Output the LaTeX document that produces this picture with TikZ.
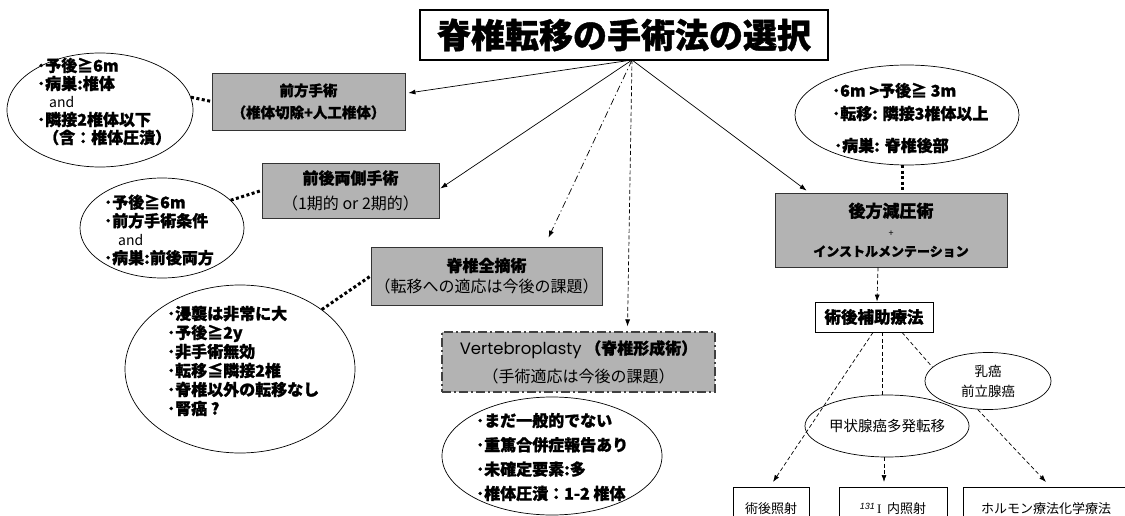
\documentclass[tikz,border=0pt]{standalone}
\usepackage{fontspec}
\setmainfont{Noto Sans CJK JP}[BoldFeatures={FakeBold=1.2}]
\newfontfamily\lat{Poppins}
\newfontfamily\ser{Liberation Serif}
\newfontfamily\ari{Liberation Sans}
\usetikzlibrary{arrows.meta,shapes.geometric,calc}
\definecolor{boxgray}{RGB}{179,179,179}
\newcommand{\fs}[2]{\fontsize{#1}{#2}\selectfont}
\begin{document}
\begin{tikzpicture}[x=1pt,y=-1pt,
  gbox/.style={draw=black!80, line width=0.8pt, fill=boxgray, align=center, inner sep=0pt},
  wbox/.style={draw=black, line width=0.8pt, fill=white, align=center, inner sep=0pt},
  ell/.style={draw=black, line width=0.7pt, ellipse, inner sep=0pt, align=center},
  etext/.style={align=left, inner sep=0pt, anchor=west, font=\fs{16}{18}\bfseries},
  arr/.style={-{Latex[length=7pt,width=5pt]}, line width=0.7pt},
  dsh/.style={dash pattern=on 4pt off 2.5pt, line width=0.7pt},
  dashdot/.style={dash pattern=on 7pt off 3pt on 1.2pt off 3pt, line width=0.7pt},
  thickdot/.style={line width=3pt, dash pattern=on 3pt off 2.5pt},
]
\useasboundingbox (0,0) rectangle (1125,516);
\clip (0,0) rectangle (1125,516);

% title
\node[draw, line width=1.6pt, minimum width=408, minimum height=50, inner sep=0pt, font=\fs{34}{40}\bfseries] (title) at (624,35) {脊椎転移の手術法の選択};
\coordinate (apex) at (632,60);

% boxes
\node[gbox, minimum width=193, minimum height=57, font=\fs{14.5}{22}\bfseries] (zenpo) at (308.5,101.5) {前方手術\\（椎体切除+人工椎体）};
\node[gbox, minimum width=177, minimum height=55, font=\fs{16}{25}] (both) at (350.5,190.5) {{\bfseries 前後両側手術}\\（1期的 or 2期的）};
\node[gbox, minimum width=231, minimum height=58, font=\fs{16}{21}] (zentekki) at (486.5,276) {{\bfseries 脊椎全摘術}\\（転移への適応は今後の課題）};
\node[gbox, minimum width=273, minimum height=60, font=\fs{16}{28}, draw=black!75, line width=1.2pt, dash pattern=on 9pt off 3pt on 2pt off 3pt] (vb) at (578.5,362) {{\lat\fs{16.5}{28}Vertebroplasty} {\bfseries （脊椎形成術）}\\（手術適応は今後の課題）};
\node[gbox, minimum width=232, minimum height=74, font=\fs{17}{19}\bfseries] (koho) at (891,230) {後方減圧術\\{\fs{9}{9}\mdseries +}\\[1pt]{\fs{13}{15}インストルメンテーション}};
\node[wbox, minimum width=118, minimum height=30, font=\fs{16.5}{18}\bfseries] (hojo) at (874,317) {術後補助療法};

% ellipses
\node[ell, minimum width=186, minimum height=114] (e1) at (100,110) {};
\node[etext] (t1) at (37,101.5) {･予後≧6m\\･病巣:椎体\\\hspace{12pt}{\mdseries\fs{14}{18}and}\\･隣接2椎体以下\\\hspace{6pt}（含：椎体圧潰）};
\node[ell, minimum width=164, minimum height=100] (e2) at (162,228) {};
\node[etext, font=\fs{16}{18.5}\bfseries] (t2) at (104,230) {･予後≧6m\\･前方手術条件\\\hspace{14pt}{\mdseries\fs{14}{18.5}and}\\･病巣:前後両方};
\node[ell, minimum width=230, minimum height=168] (e3) at (240,369) {};
\node[etext, font=\fs{16}{19}\bfseries] (t3) at (167,361) {･浸襲は非常に大\\･予後≧2y\\･非手術無効\\･転移≦隣接2椎\\･脊椎以外の転移なし\\･腎癌 ?};
\node[ell, minimum width=220, minimum height=118] (e4) at (552,456) {};
\node[etext, font=\fs{16}{24.3}\bfseries] (t4) at (476,457) {･まだ一般的でない\\･重篤合併症報告あり\\･未確定要素:多\\･椎体圧潰：1-2 椎体};
\node[ell, minimum width=224, minimum height=100] (e5) at (907,115) {};
\node[etext, font=\fs{16}{23}\bfseries] (t5) at (832,118) {･6m >予後≧ 3m\\･転移: 隣接3椎体以上\\[9pt]\hspace{2pt}･病巣: 脊椎後部};
\node[ell, minimum width=120, minimum height=62, font=\fs{14.5}{16}] (e6) at (887,426) {甲状腺癌多発転移};
\node[ell, minimum width=126, minimum height=57, font=\fs{13.5}{20}] (e7) at (988,381) {乳癌\\前立腺癌};

% bottom boxes
\node[wbox, anchor=north, minimum width=76, inner ysep=16pt, text height=10pt, text depth=45pt, font=\fs{13}{15}] (b1) at (771,487) {術後照射};
\node[wbox, anchor=north, minimum width=108, inner ysep=16pt, text height=10pt, text depth=45pt, font=\fs{13}{15}] (b2) at (893,487) {{\ari\itshape\fs{9}{10}\raisebox{4pt}{131}}\,{\ser I}\;\,内照射};
\node[wbox, anchor=north, minimum width=166, inner ysep=16pt, text height=10pt, text depth=45pt, font=\fs{13}{15}] (b3) at (1046,487) {ホルモン療法化学療法};

% connectors from title
\draw[arr] (apex) -- ([xshift=3pt,yshift=8.5pt]zenpo.east);
\draw[arr] (apex) -- ([xshift=1pt,yshift=2pt]both.east);
\draw[arr,dashdot] (apex) -- ([xshift=62pt,yshift=9pt]zentekki.north);
\draw[arr,dsh] (apex) -- ([xshift=49pt,yshift=5pt]vb.north);
\draw[arr] (apex) -- ([xshift=32pt,yshift=2pt]koho.north west);

% thick dotted links
\draw[thickdot] (e1.8) -- (zenpo.west);
\draw[thickdot] (e2.22) -- (both.west);
\draw[thickdot] (e3.36) -- (zentekki.west);
\draw[thickdot] ([xshift=-5pt]e5.south) -- ([xshift=11pt]koho.north);

% lower part
\draw[arr,dsh] ([xshift=-13pt]koho.south) -- ([xshift=3pt]hojo.north);
\draw[arr,dsh] ([xshift=-1pt]hojo.south) -- ([xshift=2pt,yshift=5pt]b1.north);
\draw[dsh] ([xshift=8pt]hojo.south) -- ([xshift=-5pt]e6.north);
\draw[arr,dsh] ([xshift=-3pt]e6.south) -- ([xshift=-9pt,yshift=5pt]b2.north);
\draw[dsh] ([xshift=28pt]hojo.south) -- (e7.166);
\draw[arr,dsh] (e7.250) -- ([yshift=5pt]b3.north);
\end{tikzpicture}
\end{document}
